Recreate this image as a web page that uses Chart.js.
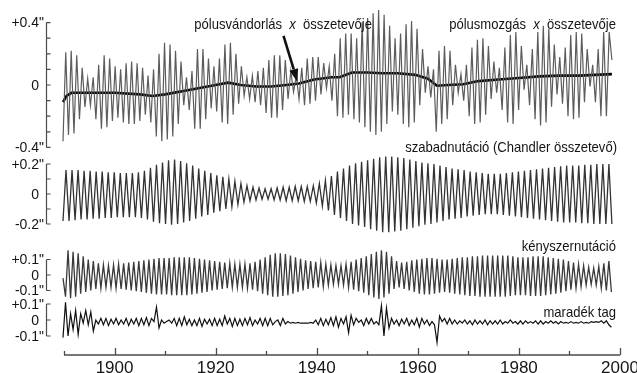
<!DOCTYPE html>
<html>
<head>
<meta charset="utf-8">
<script src="https://cdn.jsdelivr.net/npm/chart.js@4.4.1/dist/chart.umd.min.js"></script>
<style>
  html, body { margin: 0; padding: 0; background: #fff; }
  #wrap { width: 637px; height: 373px; }
</style>
</head>
<body>
<div id="wrap"><canvas id="myChart" width="637" height="373"></canvas></div>
<script>
// ---- data (arcseconds) ----

// polar motion x component, alternating troughs / peaks
let motionStart = 1889.8;
let motionStep = 0.543;
let motionValues = [
  -0.36, 0.21, -0.32, 0.22, -0.31, 0.19, -0.22, 0.11, -0.14, 0.04,
  -0.13, 0.05, -0.22, 0.13, -0.28, 0.19, -0.27, 0.17, -0.23, 0.12,
  -0.21, 0.10, -0.24, 0.14, -0.25, 0.15, -0.25, 0.14, -0.23, 0.11,
  -0.19, 0.06, -0.24, 0.10, -0.33, 0.20, -0.36, 0.27, -0.35, 0.26,
  -0.33, 0.22, -0.25, 0.15, -0.13, 0.05, -0.16, 0.09, -0.28, 0.23,
  -0.28, 0.23, -0.22, 0.17, -0.15, 0.12, -0.17, 0.17, -0.24, 0.26,
  -0.25, 0.27, -0.19, 0.20, -0.12, 0.12, -0.07, 0.05, -0.09, 0.06,
  -0.11, 0.09, -0.13, 0.11, -0.18, 0.16, -0.21, 0.19, -0.21, 0.19,
  -0.16, 0.16, -0.09, 0.09, -0.045, 0.06, -0.09, 0.11, -0.13, 0.17,
  -0.12, 0.18, -0.10, 0.18, -0.06, 0.14, -0.02, 0.12, -0.10, 0.20,
  -0.20, 0.30, -0.21, 0.33, -0.19, 0.33, -0.22, 0.30, -0.24, 0.40,
  -0.27, 0.43, -0.30, 0.46, -0.32, 0.48, -0.30, 0.45, -0.25, 0.38,
  -0.17, 0.30, -0.19, 0.33, -0.25, 0.39, -0.27, 0.41, -0.24, 0.36,
  -0.13, 0.23, -0.05, 0.12, -0.08, 0.10, -0.30, 0.22, -0.25, 0.25,
  -0.22, 0.22, -0.13, 0.13, -0.05, 0.07, -0.10, 0.13, -0.20, 0.24,
  -0.25, 0.29, -0.24, 0.30, -0.19, 0.25, -0.09, 0.15, -0.05, 0.11,
  -0.16, 0.24, -0.24, 0.32, -0.25, 0.34, -0.16, 0.25, -0.03, 0.13,
  -0.13, 0.23, -0.22, 0.34, -0.26, 0.38, -0.24, 0.36, -0.14, 0.26,
  -0.06, 0.18, -0.12, 0.24, -0.20, 0.32, -0.22, 0.34, -0.21, 0.33,
  -0.11, 0.23, -0.01, 0.13, -0.11, 0.23, -0.20, 0.34, -0.20, 0.34,
  0.16
];

// polar wander (thick line)
let wanderYears = [1889.8, 1890.5, 1891.5, 1895, 1900, 1905, 1907.5, 1910, 1915, 1920,
  1922.5, 1925, 1928, 1931, 1934, 1936.5, 1939.5, 1943, 1944.5, 1947,
  1950, 1953, 1956, 1959.5, 1962, 1963.8, 1966, 1969, 1972, 1976,
  1980, 1984, 1988, 1992, 1995, 1998.4];
let wanderValues = [-0.11, -0.07, -0.05, -0.05, -0.05, -0.06, -0.07, -0.06, -0.03, 0.0,
  0.015, 0.0, -0.01, -0.01, 0.0, 0.01, 0.035, 0.05, 0.05, 0.08,
  0.08, 0.075, 0.075, 0.065, 0.04, -0.005, 0.0, 0.005, 0.025, 0.035,
  0.045, 0.055, 0.06, 0.06, 0.065, 0.07];

// free nutation (Chandler component)
let chandlerStart = 1889.8;
let chandlerStep = 0.5967;
let chandlerValues = [
  -0.18, 0.16, -0.18, 0.16, -0.175, 0.16, -0.17, 0.155, -0.17, 0.155,
  -0.165, 0.15, -0.165, 0.15, -0.16, 0.145, -0.16, 0.145, -0.155, 0.14,
  -0.155, 0.14, -0.155, 0.14, -0.155, 0.145, -0.16, 0.155, -0.17, 0.175,
  -0.185, 0.195, -0.195, 0.21, -0.2, 0.225, -0.205, 0.23, -0.2, 0.22,
  -0.19, 0.205, -0.18, 0.19, -0.165, 0.17, -0.15, 0.155, -0.14, 0.14,
  -0.125, 0.125, -0.115, 0.115, -0.1, 0.1, -0.085, 0.085, -0.07, 0.07,
  -0.055, 0.055, -0.045, 0.045, -0.04, 0.04, -0.035, 0.035, -0.035, 0.035,
  -0.04, 0.04, -0.04, 0.045, -0.045, 0.045, -0.045, 0.05, -0.045, 0.05,
  -0.05, 0.05, -0.05, 0.055, -0.06, 0.07, -0.08, 0.09, -0.11, 0.12,
  -0.14, 0.15, -0.16, 0.17, -0.18, 0.19, -0.2, 0.205, -0.21, 0.215,
  -0.22, 0.225, -0.235, 0.235, -0.245, 0.245, -0.255, 0.25, -0.255, 0.25,
  -0.25, 0.245, -0.245, 0.24, -0.235, 0.23, -0.225, 0.22, -0.215, 0.21,
  -0.205, 0.205, -0.2, 0.2, -0.19, 0.19, -0.18, 0.18, -0.17, 0.17,
  -0.165, 0.165, -0.16, 0.16, -0.15, 0.15, -0.145, 0.145, -0.14, 0.14,
  -0.135, 0.135, -0.135, 0.135, -0.135, 0.135, -0.14, 0.14, -0.145, 0.145,
  -0.15, 0.15, -0.155, 0.155, -0.16, 0.16, -0.165, 0.165, -0.17, 0.17,
  -0.175, 0.175, -0.18, 0.18, -0.185, 0.185, -0.19, 0.19, -0.19, 0.19,
  -0.19, 0.19, -0.195, 0.195, -0.195, 0.195, -0.2, 0.2, -0.2, 0.2,
  -0.2, 0.2, -0.2
];

// forced (annual) nutation
let annualStart = 1889.8;
let annualStep = 0.5;
let annualValues = [
  -0.02,
  -0.14, 0.16, -0.15, 0.15, -0.14, 0.14, -0.12, 0.12, -0.11, 0.10,
  -0.10, 0.09, -0.09, 0.075, -0.085, 0.065, -0.08, 0.06, -0.08, 0.065,
  -0.085, 0.07, -0.09, 0.075, -0.095, 0.08, -0.10, 0.085, -0.105, 0.09,
  -0.11, 0.095, -0.115, 0.10, -0.12, 0.105, -0.125, 0.11, -0.125, 0.11,
  -0.125, 0.11, -0.13, 0.115, -0.13, 0.115, -0.13, 0.115, -0.13, 0.115,
  -0.125, 0.11, -0.12, 0.105, -0.115, 0.10, -0.11, 0.095, -0.10, 0.09,
  -0.095, 0.085, -0.09, 0.08, -0.085, 0.075, -0.08, 0.07, -0.08, 0.07,
  -0.08, 0.07, -0.085, 0.075, -0.095, 0.085, -0.105, 0.10, -0.12, 0.115,
  -0.13, 0.13, -0.14, 0.14, -0.14, 0.14, -0.135, 0.135, -0.13, 0.125,
  -0.12, 0.115, -0.11, 0.105, -0.10, 0.095, -0.09, 0.09, -0.085, 0.085,
  -0.08, 0.08, -0.075, 0.07, -0.065, 0.065, -0.06, 0.06, -0.06, 0.06,
  -0.065, 0.07, -0.08, 0.085, -0.095, 0.10, -0.105, 0.11, -0.115, 0.12,
  -0.13, 0.135, -0.145, 0.15, -0.155, 0.16, -0.145, 0.15, -0.12, 0.12,
  -0.09, 0.09, -0.08, 0.08, -0.09, 0.085, -0.10, 0.095, -0.11, 0.10,
  -0.12, 0.105, -0.125, 0.11, -0.125, 0.11, -0.12, 0.105, -0.115, 0.10,
  -0.11, 0.10, -0.115, 0.105, -0.12, 0.11, -0.125, 0.115, -0.13, 0.115,
  -0.135, 0.12, -0.135, 0.12, -0.14, 0.125, -0.14, 0.125, -0.14, 0.125,
  -0.14, 0.125, -0.14, 0.125, -0.14, 0.125, -0.135, 0.12, -0.13, 0.115,
  -0.13, 0.115, -0.13, 0.115, -0.135, 0.12, -0.135, 0.12, -0.135, 0.12,
  -0.13, 0.115, -0.125, 0.11, -0.12, 0.105, -0.115, 0.10, -0.105, 0.09,
  -0.095, 0.08, -0.085, 0.07, -0.075, 0.06, -0.065, 0.05, -0.06, 0.045,
  -0.065, 0.055, -0.085, 0.075, -0.10, 0.09,
  -0.11
];

// residual term
let residualStart = 1889.8;
let residualStep = 0.5;
let residualValues = [
  -0.11, 0.11, -0.10, 0.04, -0.06, 0.06, -0.09, 0.04, -0.02, 0.06,
  -0.03, 0.05, -0.07, 0.0, -0.025, 0.01, -0.03, 0.01, -0.035, 0.005,
  -0.025, 0.01, -0.03, 0.0, -0.025, 0.01, -0.035, 0.005, -0.025, 0.01,
  -0.035, 0.01, -0.03, 0.015, -0.035, 0.01, -0.01, 0.08, -0.05, 0.0,
  -0.02, -0.01, 0.0, -0.02, 0.01, -0.035, 0.01, -0.035, 0.02, -0.03,
  0.005, -0.035, 0.0, -0.035, 0.01, -0.04, 0.005, -0.025, 0.005, -0.035,
  0.01, -0.035, 0.005, -0.035, 0.025, -0.025, 0.01, -0.04, 0.01, -0.035,
  0.005, -0.035, 0.01, -0.03, 0.015, -0.035, 0.0, -0.025, 0.01, -0.035,
  0.01, -0.035, 0.01, -0.03, -0.01, 0.0, -0.035, 0.01, -0.025, -0.01,
  -0.02, -0.015, -0.02, -0.015, -0.02, -0.02, -0.02, -0.02, -0.015, -0.02,
  0.0, -0.03, 0.01, -0.035, 0.005, -0.03, 0.015, -0.035, 0.02, -0.045,
  0.01, -0.025, 0.02, -0.08, 0.03, -0.03, 0.01, -0.015, 0.0, -0.035,
  0.01, -0.025, 0.01, -0.025, -0.01, -0.03, 0.09, -0.10, 0.075, -0.05,
  0.01, -0.025, 0.0, -0.035, 0.005, -0.025, 0.01, -0.035, 0.0, -0.03,
  0.01, -0.045, 0.01, -0.025, 0.0, -0.035, -0.01, -0.03, -0.14, 0.025,
  -0.01, 0.01, -0.025, 0.01, -0.025, 0.0, -0.025, -0.005, -0.02, 0.0,
  -0.025, -0.005, -0.03, 0.0, -0.025, -0.005, -0.025, 0.0, -0.03, -0.005,
  -0.025, -0.005, -0.025, 0.0, -0.025, -0.01, -0.02, 0.0, -0.02, -0.01,
  -0.025, -0.005, -0.025, -0.005, -0.02, -0.01, -0.02, -0.005, -0.025, -0.005,
  -0.025, -0.01, -0.02, -0.005, -0.02, -0.01, -0.025, -0.01, -0.02, -0.015,
  -0.02, -0.01, -0.02, -0.015, -0.02, -0.01, -0.02, -0.015, -0.02, -0.01,
  -0.015, -0.01, -0.015, -0.005, -0.02, -0.005, -0.03, -0.045
];

// axes
let xMin = 1890;
let xMax = 2000;
let xTickStep = 10;
let xLabelYears = [1900, 1920, 1940, 1960, 1980, 2000];

let p1Ticks = [0.4, 0.3, 0.2, 0.1, 0, -0.1, -0.2, -0.3, -0.4];
let p1LabelVals = [0.4, 0, -0.4];
let p1Labels = ['+0.4"', '0', '-0.4"'];
let p2Ticks = [0.2, 0.1, 0, -0.1, -0.2];
let p2LabelVals = [0.2, 0, -0.2];
let p2Labels = ['+0.2"', '0', '-0.2"'];
let p3Ticks = [0.1, 0, -0.1];
let p3LabelVals = [0.1, 0, -0.1];
let p3Labels = ['+0.1"', '0', '-0.1"'];
let p4Ticks = [0.1, 0, -0.1];
let p4LabelVals = [0.1, 0, -0.1];
let p4Labels = ['+0.1"', '0', '-0.1"'];

// ---- layout / style ----
const FONT = "'Liberation Sans', Arial, sans-serif";
const AREA_TOP = 0;
const AREA_BOTTOM = 355;
const AXIS_COLOR = '#4a4a4a';
const TEXT_COLOR = '#151515';
const TITLE_SQUEEZE = 0.9;   // the original lettering is a bit narrow

// where each panel's zero sits and how many px one arcsecond takes
let panelLayout = [
  { id: 'y1', zero: 85, ppu: 156, ticks: p1Ticks, labelVals: p1LabelVals, labels: p1Labels },
  { id: 'y2', zero: 194, ppu: 150, ticks: p2Ticks, labelVals: p2LabelVals, labels: p2Labels },
  { id: 'y3', zero: 275, ppu: 155, ticks: p3Ticks, labelVals: p3LabelVals, labels: p3Labels },
  { id: 'y4', zero: 320, ppu: 160, ticks: p4Ticks, labelVals: p4LabelVals, labels: p4Labels }
];

function toPoints(start, step, values) {
  return values.map(function(v, i) { return { x: start + step * i, y: v }; });
}

function panelScale(p) {
  return {
    type: 'linear',
    display: false,
    min: -(AREA_BOTTOM - p.zero) / p.ppu,
    max: (p.zero - AREA_TOP) / p.ppu
  };
}

function drawTitle(ctx, parts, right, baseline) {
  let size = 14.5;
  let widths = parts.map(function(p) {
    ctx.font = (p.italic ? 'italic ' : '') + size + 'px ' + FONT;
    return ctx.measureText(p.text).width;
  });
  let total = widths.reduce(function(a, b) { return a + b; }, 0);
  ctx.save();
  ctx.translate(right - total * TITLE_SQUEEZE, baseline);
  ctx.scale(TITLE_SQUEEZE, 1);
  ctx.fillStyle = TEXT_COLOR;
  ctx.textAlign = 'left';
  ctx.textBaseline = 'alphabetic';
  let x = 0;
  parts.forEach(function(p, i) {
    ctx.font = (p.italic ? 'italic ' : '') + size + 'px ' + FONT;
    ctx.fillText(p.text, x, 0);
    x += widths[i];
  });
  ctx.restore();
}

const overlay = {
  id: 'overlay',
  afterDraw: function(chart) {
    let ctx = chart.ctx;
    let xs = chart.scales.x;
    let area = chart.chartArea;
    let bottom = area.bottom;
    ctx.save();

    // x axis line, ticks pointing up, year labels
    ctx.strokeStyle = AXIS_COLOR;
    ctx.lineWidth = 1.5;
    ctx.beginPath();
    ctx.moveTo(xs.getPixelForValue(xMin), bottom);
    ctx.lineTo(xs.getPixelForValue(xMax), bottom);
    ctx.stroke();
    ctx.lineWidth = 1.3;
    for (let v = xMin; v <= xMax; v += xTickStep) {
      let px = Math.round(xs.getPixelForValue(v)) + 0.5;
      let len = (v % 20 === 0) ? 7 : 4;
      ctx.beginPath();
      ctx.moveTo(px, bottom);
      ctx.lineTo(px, bottom - len);
      ctx.stroke();
    }
    ctx.fillStyle = TEXT_COLOR;
    ctx.font = '17px ' + FONT;
    ctx.textAlign = 'center';
    ctx.textBaseline = 'alphabetic';
    xLabelYears.forEach(function(y) {
      ctx.fillText(String(y), xs.getPixelForValue(y), 373);
    });

    // y brackets with labels
    let axisX = 46.5;
    panelLayout.forEach(function(p) {
      let s = chart.scales[p.id];
      let top = s.getPixelForValue(p.ticks[0]);
      let bot = s.getPixelForValue(p.ticks[p.ticks.length - 1]);
      ctx.strokeStyle = AXIS_COLOR;
      ctx.lineWidth = 1.2;
      ctx.beginPath();
      ctx.moveTo(axisX, top);
      ctx.lineTo(axisX, bot);
      p.ticks.forEach(function(t) {
        let py = s.getPixelForValue(t);
        ctx.moveTo(axisX, py);
        ctx.lineTo(axisX + 4, py);
      });
      ctx.stroke();

      ctx.fillStyle = TEXT_COLOR;
      ctx.font = '14px ' + FONT;
      ctx.textBaseline = 'middle';
      ctx.textAlign = 'right';
      p.labelVals.forEach(function(v, i) {
        let py = s.getPixelForValue(v);
        let txt = p.labels[i];
        let rx = txt === '0' ? 39 : 44;
        ctx.fillText(txt, rx, py + 1);
      });
    });

    // panel titles
    drawTitle(ctx, [{ text: 'pólusmozgás ', italic: false }, { text: ' x ', italic: true }, { text: ' összetevője', italic: false }], 616, 29);
    drawTitle(ctx, [{ text: 'pólusvándorlás ', italic: false }, { text: ' x ', italic: true }, { text: ' összetevője', italic: false }], 372, 29);
    drawTitle(ctx, [{ text: 'szabadnutáció (Chandler összetevő)', italic: false }], 617, 152);
    drawTitle(ctx, [{ text: 'kényszernutáció', italic: false }], 616, 251);
    drawTitle(ctx, [{ text: 'maradék tag', italic: false }], 616, 317);

    // arrow pointing at the wander curve
    let y1 = chart.scales.y1;
    let tipX = xs.getPixelForValue(1936.2);
    let tipY = y1.getPixelForValue(0.02);
    let fromX = tipX - 14;
    let fromY = tipY - 46;
    let ang = Math.atan2(tipY - fromY, tipX - fromX);
    let headLen = 13;
    let headW = 4.5;
    let baseX = tipX - headLen * Math.cos(ang);
    let baseY = tipY - headLen * Math.sin(ang);
    ctx.strokeStyle = '#111';
    ctx.fillStyle = '#111';
    ctx.lineWidth = 2.6;
    ctx.beginPath();
    ctx.moveTo(fromX, fromY);
    ctx.lineTo(baseX, baseY);
    ctx.stroke();
    ctx.beginPath();
    ctx.moveTo(tipX, tipY);
    ctx.lineTo(baseX + headW * Math.sin(ang), baseY - headW * Math.cos(ang));
    ctx.lineTo(baseX - headW * Math.sin(ang), baseY + headW * Math.cos(ang));
    ctx.closePath();
    ctx.fill();

    ctx.restore();
  }
};

document.addEventListener("DOMContentLoaded", function() {
  let ctx = document.getElementById('myChart').getContext('2d');
  let lineStyle = { pointRadius: 0, tension: 0, fill: false, clip: false };

  let myChart = new Chart(ctx, {
    type: 'line',
    data: {
      datasets: [
        Object.assign({ label: 'pólusmozgás', data: toPoints(motionStart, motionStep, motionValues),
          yAxisID: 'y1', borderColor: '#5c5c5c', borderWidth: 1.2 }, lineStyle),
        Object.assign({ label: 'pólusvándorlás', data: wanderYears.map(function(y, i) { return { x: y, y: wanderValues[i] }; }),
          yAxisID: 'y1', borderColor: '#000', borderWidth: 2.6 }, lineStyle),
        Object.assign({ label: 'szabadnutáció', data: toPoints(chandlerStart, chandlerStep, chandlerValues),
          yAxisID: 'y2', borderColor: '#333', borderWidth: 1.3 }, lineStyle),
        Object.assign({ label: 'kényszernutáció', data: toPoints(annualStart, annualStep, annualValues),
          yAxisID: 'y3', borderColor: '#3a3a3a', borderWidth: 1.3 }, lineStyle),
        Object.assign({ label: 'maradék tag', data: toPoints(residualStart, residualStep, residualValues),
          yAxisID: 'y4', borderColor: '#111', borderWidth: 1.2 }, lineStyle)
      ]
    },
    options: {
      responsive: false,
      animation: false,
      devicePixelRatio: 1,
      layout: { padding: { left: 64, right: 17, top: AREA_TOP, bottom: 373 - AREA_BOTTOM } },
      plugins: { legend: { display: false }, tooltip: { enabled: false } },
      scales: {
        x: { type: 'linear', display: false, min: xMin, max: xMax },
        y1: panelScale(panelLayout[0]),
        y2: panelScale(panelLayout[1]),
        y3: panelScale(panelLayout[2]),
        y4: panelScale(panelLayout[3])
      }
    },
    plugins: [overlay]
  });
});
</script>
</body>
</html>
